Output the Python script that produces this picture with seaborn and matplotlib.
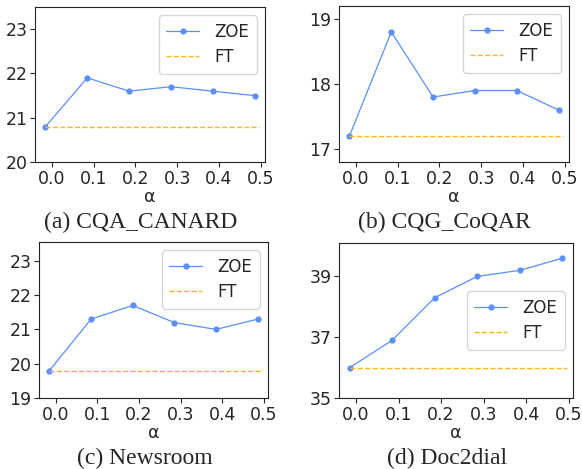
import numpy as np
import pandas as pd
import matplotlib
matplotlib.use("Agg")
import matplotlib.pyplot as plt
import seaborn as sns

# values
alpha = [0.0, 0.1, 0.2, 0.3, 0.4, 0.5]
tick_labels = ["0.0", "0.1", "0.2", "0.3", "0.4", "0.5"]

zoe_canard = [20.8, 21.9, 21.6, 21.7, 21.6, 21.5]
zoe_coqar = [17.2, 18.8, 17.8, 17.9, 17.9, 17.6]
zoe_newsroom = [19.8, 21.3, 21.7, 21.2, 21.0, 21.3]
zoe_doc2dial = [36.0, 36.9, 38.3, 39.0, 39.2, 39.6]

ft_canard = 20.8
ft_coqar = 17.2
ft_newsroom = 19.8
ft_doc2dial = 36.0

captions = ["(a) CQA_CANARD", "(b) CQG_CoQAR", "(c) Newsroom", "(d) Doc2dial"]

sns.set_style("white")
plt.rcParams["font.family"] = ["DejaVu Sans"]
plt.rcParams["font.sans-serif"] = ["DejaVu Sans"]

blue = "#5b8ff9"
orange = "#ffb320"

fig = plt.figure(figsize=(5.82, 4.69), dpi=100)
W, H = 582, 469
# axes boxes in pixels (left, top, right, bottom)
boxes = [(35, 7, 265, 162), (339, 6, 569, 162), (39, 242, 268, 398), (339, 243, 573, 398)]

panels = [
    (zoe_canard, ft_canard, (20, 23.5), [20, 21, 22, 23], "upper right"),
    (zoe_coqar, ft_coqar, (16.8, 19.2), [17, 18, 19], "upper right"),
    (zoe_newsroom, ft_newsroom, (19, 23.55), [19, 20, 21, 22, 23], "upper right"),
    (zoe_doc2dial, ft_doc2dial, (35, 40.1), [35, 37, 39], "center right"),
]

for (l, t, r, b), (zoe, ft, ylim, yticks, loc), cap in zip(boxes, panels, captions):
    ax = fig.add_axes([l / W, 1 - b / H, (r - l) / W, (b - t) / H])
    df = pd.DataFrame({"alpha": alpha, "score": zoe})
    sns.lineplot(data=df, x="alpha", y="score", ax=ax, color=blue, marker="o",
                 markersize=4.5, markeredgewidth=0, linewidth=0.9, label="ZOE")
    ax.hlines(ft, alpha[0], alpha[-1] + 0.01, colors=orange, linestyles="--",
              linewidth=1.0, label="FT")
    ax.set_xlim(alpha[0] - 0.025, alpha[-1] + 0.025)
    ax.set_ylim(*ylim)
    ax.set_yticks(yticks)
    ax.set_xticks([a + 0.015 for a in alpha])
    ax.set_xticklabels(tick_labels)
    ax.tick_params(axis="both", labelsize=12.5, length=3.5, width=0.8, direction="out",
                   left=True, bottom=True, pad=2)
    ax.set_xlabel("α", fontsize=12.5, labelpad=0)
    ax.set_ylabel("")
    for s in ax.spines.values():
        s.set_color("#222222")
        s.set_linewidth(0.8)
    ax.legend(loc=loc, fontsize=12, handlelength=2.0, borderpad=0.45,
              labelspacing=0.45, handletextpad=0.9, framealpha=0.8, edgecolor="#cccccc")
    ax.text(0.46, -0.39, cap, transform=ax.transAxes, ha="center", va="center",
            fontsize=17, family=["Liberation Serif", "DejaVu Serif"])

fig.savefig("out.png", dpi=100)
